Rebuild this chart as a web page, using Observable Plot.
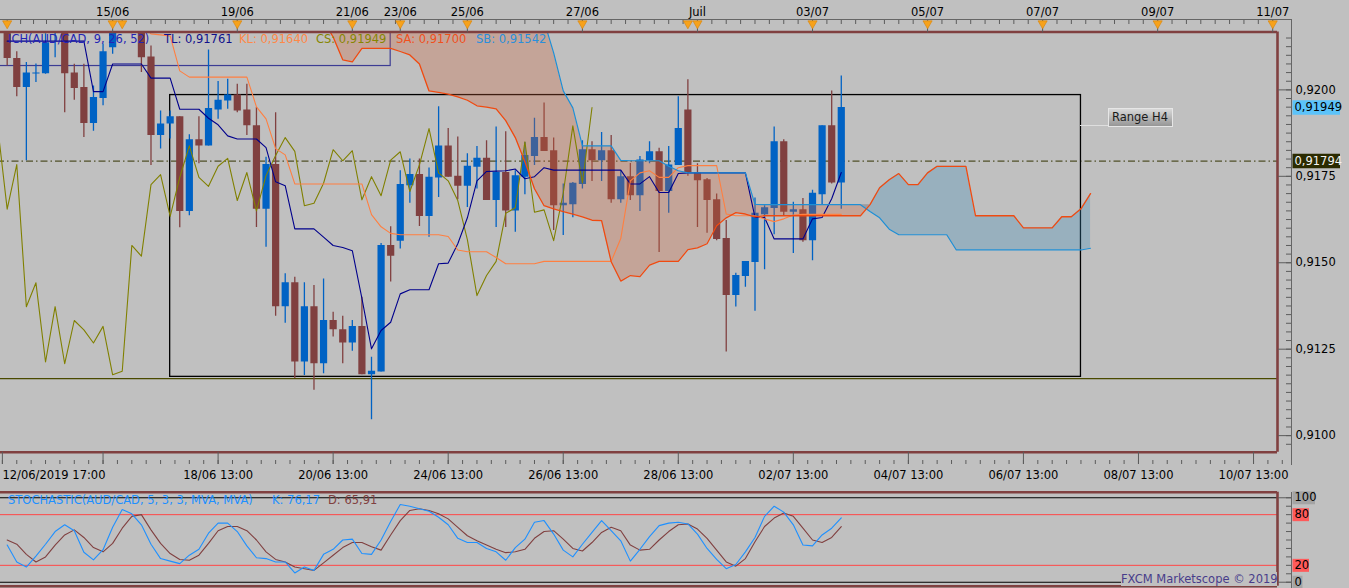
<!DOCTYPE html>
<html>
<head>
<meta charset="utf-8">
<script src="https://cdn.jsdelivr.net/npm/d3@7"></script>
<script src="https://cdn.jsdelivr.net/npm/@observablehq/plot@0.6"></script>
<style>
html,body{margin:0;padding:0;background:#c0c0c0;}
#wrap{position:relative;width:1349px;height:588px;background:#c0c0c0;overflow:hidden;font-family:'DejaVu Sans',sans-serif;font-size:11.5px;}
#wrap svg{position:absolute;left:0;overflow:visible;}
.t{position:absolute;white-space:pre;line-height:14px;}
.ln{position:absolute;background:#666;}
</style>
</head>
<body>
<div id="wrap"></div>
<script>
// ---------------- DATA (AUD/CAD, H4 bars, index 0..87) ----------------
const opens = [0.92176,0.92091,0.92007,0.92046,0.92047,0.92173,0.92173,0.92049,0.92007,0.91903,
0.91975,0.92122,0.92228,0.92199,0.92176,0.92095,0.91868,0.91901,0.91922,0.91648,
0.91856,0.91838,0.91942,0.91968,0.91985,0.91942,0.91896,0.91655,0.91784,0.91373,
0.91442,0.91213,0.91373,0.91208,0.91333,0.91306,0.91268,0.91316,0.91176,0.91184,
0.91550,0.91562,0.91723,0.91755,0.91634,0.91745,0.91838,0.91750,0.91721,0.91776,
0.91802,0.91680,0.91761,0.91650,0.91747,0.91807,0.91862,0.91824,0.91665,0.91668,
0.91726,0.91827,0.91795,0.91824,0.91682,0.91749,0.91694,0.91795,0.91821,0.91706,
0.91781,0.91942,0.91760,0.91740,0.91682,0.91570,0.91405,0.91460,0.91501,0.91639,
0.91657,0.91850,0.91646,0.91653,0.91564,0.91697,0.91896,0.91731];
const highs = [0.92185,0.92110,0.92079,0.92075,0.92162,0.92214,0.92185,0.92074,0.92074,0.92011,
0.92133,0.92205,0.92242,0.92222,0.92193,0.92127,0.91939,0.91939,0.91922,0.91870,
0.91922,0.92115,0.92024,0.92031,0.92016,0.92016,0.91949,0.91805,0.91934,0.91468,
0.91458,0.91442,0.91434,0.91453,0.91357,0.91345,0.91333,0.91400,0.91227,0.91556,
0.91604,0.91766,0.91800,0.91800,0.91774,0.91951,0.91888,0.91864,0.91815,0.91836,
0.91853,0.91893,0.91879,0.91766,0.91848,0.91918,0.91962,0.91861,0.91728,0.91732,
0.91853,0.91850,0.91877,0.91868,0.91766,0.91787,0.91807,0.91850,0.91831,0.91836,
0.91980,0.92029,0.91786,0.91744,0.91699,0.91622,0.91470,0.91504,0.91687,0.91665,
0.91893,0.91856,0.91675,0.91686,0.91710,0.91896,0.91997,0.92040];
const lows = [0.92069,0.91980,0.91795,0.92021,0.92045,0.92093,0.91934,0.91970,0.91862,0.91880,
0.91954,0.92103,0.92185,0.92162,0.92050,0.91781,0.91829,0.91858,0.91601,0.91636,
0.91786,0.91838,0.91915,0.91944,0.91934,0.91868,0.91602,0.91545,0.91345,0.91325,
0.91165,0.91174,0.91131,0.91179,0.91285,0.91208,0.91244,0.91176,0.91046,0.91184,
0.91444,0.91540,0.91672,0.91605,0.91574,0.91689,0.91747,0.91682,0.91660,0.91713,
0.91680,0.91602,0.91602,0.91588,0.91697,0.91781,0.91822,0.91593,0.91579,0.91630,
0.91713,0.91735,0.91735,0.91672,0.91672,0.91680,0.91648,0.91786,0.91530,0.91643,
0.91781,0.91750,0.91602,0.91585,0.91564,0.91242,0.91372,0.91429,0.91360,0.91480,
0.91581,0.91636,0.91527,0.91559,0.91506,0.91668,0.91728,0.91655];
const closes = [0.92091,0.92007,0.92049,0.92049,0.92136,0.92199,0.92047,0.92004,0.91903,0.91978,
0.92110,0.92193,0.92199,0.92176,0.92093,0.91868,0.91901,0.91922,0.91648,0.91856,
0.91838,0.91946,0.91970,0.91985,0.91939,0.91896,0.91655,0.91784,0.91373,0.91442,
0.91213,0.91373,0.91208,0.91333,0.91306,0.91268,0.91316,0.91176,0.91186,0.91550,
0.91519,0.91726,0.91755,0.91634,0.91747,0.91838,0.91747,0.91721,0.91779,0.91802,
0.91680,0.91761,0.91650,0.91752,0.91810,0.91862,0.91822,0.91665,0.91672,0.91730,
0.91827,0.91795,0.91824,0.91682,0.91749,0.91694,0.91797,0.91821,0.91706,0.91783,
0.91888,0.91760,0.91737,0.91680,0.91567,0.91405,0.91463,0.91504,0.91643,0.91659,
0.91850,0.91646,0.91653,0.91564,0.91701,0.91896,0.91731,0.91949];

// Ichimoku (9, 26, 52)
const tenkan = [0.92141,0.92141,0.92141,0.92141,0.92141,0.92141,0.92141,0.92141,0.92141,0.91995,
0.91995,0.92075,0.92075,0.92075,0.92075,0.92034,0.92034,0.92034,0.91944,0.91944,
0.91944,0.91918,0.91899,0.91867,0.91858,0.91858,0.91858,0.91833,0.91734,0.91723,
0.91598,0.91598,0.91598,0.91574,0.91550,0.91544,0.91535,0.91397,0.91251,0.91304,
0.91328,0.91410,0.91422,0.91422,0.91422,0.91497,0.91499,0.91555,0.91630,0.91737,
0.91764,0.91765,0.91766,0.91771,0.91743,0.91749,0.91775,0.91768,0.91768,0.91768,
0.91768,0.91768,0.91768,0.91768,0.91768,0.91728,0.91728,0.91749,0.91703,0.91703,
0.91758,0.91760,0.91760,0.91760,0.91760,0.91760,0.91760,0.91760,0.91631,0.91631,
0.91569,0.91569,0.91569,0.91569,0.91627,0.91631,0.91685,0.91761];
const kijun = [0.92199,0.92199,0.92199,0.92199,0.92199,0.92199,0.92199,0.92199,0.92199,0.92199,
0.92199,0.92199,0.92199,0.92199,0.92199,0.92162,0.92159,0.92156,0.92055,0.92037,
0.92037,0.92037,0.92037,0.92037,0.92037,0.92037,0.91951,0.91916,0.91830,0.91812,
0.91728,0.91728,0.91728,0.91728,0.91728,0.91728,0.91728,0.91728,0.91639,0.91604,
0.91585,0.91581,0.91581,0.91581,0.91581,0.91581,0.91576,0.91537,0.91532,0.91532,
0.91532,0.91515,0.91497,0.91497,0.91497,0.91497,0.91504,0.91504,0.91504,0.91504,
0.91504,0.91504,0.91504,0.91504,0.91570,0.91737,0.91760,0.91766,0.91747,0.91747,
0.91775,0.91781,0.91781,0.91781,0.91781,0.91641,0.91636,0.91636,0.91636,0.91627,
0.91619,0.91627,0.91638,0.91640,0.91640,0.91640,0.91640,0.91640];
// Senkou spans, bars 33..113 (projected 26 bars ahead)
const CLOUD_START = 33;
const senkouA = [0.92199,0.92153,0.92087,0.92081,0.92120,0.92120,0.92120,0.92120,0.92111,0.92101,
0.92075,0.91997,0.91993,0.91988,0.91980,0.91970,0.91954,0.91950,0.91945,0.91911,
0.91862,0.91792,0.91714,0.91665,0.91656,0.91648,0.91641,0.91633,0.91623,0.91622,
0.91503,0.91447,0.91463,0.91460,0.91493,0.91504,0.91504,0.91504,0.91538,0.91543,
0.91555,0.91607,0.91630,0.91645,0.91641,0.91633,0.91636,0.91636,0.91636,0.91636,
0.91636,0.91636,0.91636,0.91636,0.91636,0.91636,0.91636,0.91668,0.91717,0.91740,
0.91758,0.91726,0.91726,0.91760,0.91779,0.91779,0.91779,0.91779,0.91636,0.91636,
0.91636,0.91636,0.91636,0.91601,0.91601,0.91601,0.91601,0.91633,0.91633,0.91656,
0.91700];
const senkouB = [0.92300,0.92300,0.92300,0.92300,0.92300,0.92300,0.92300,0.92300,0.92300,0.92300,
0.92300,0.92300,0.92300,0.92300,0.92300,0.92300,0.92300,0.92300,0.92300,0.92300,
0.92300,0.92300,0.92300,0.92199,0.92107,0.91997,0.91948,0.91838,0.91838,0.91838,
0.91838,0.91796,0.91795,0.91795,0.91795,0.91795,0.91779,0.91766,0.91760,0.91760,
0.91760,0.91760,0.91760,0.91760,0.91760,0.91669,0.91668,0.91668,0.91668,0.91668,
0.91668,0.91668,0.91668,0.91668,0.91668,0.91668,0.91668,0.91648,0.91630,0.91597,
0.91581,0.91581,0.91581,0.91581,0.91581,0.91581,0.91537,0.91537,0.91537,0.91537,
0.91537,0.91537,0.91537,0.91537,0.91537,0.91537,0.91537,0.91537,0.91537,0.91537,
0.91542];
const CHIKOU_SHIFT = 26;

// Stochastic (5,3,3)
const stochK = [44,24,18,31,45,60,68,61,35.5,26.5,38.5,65,86,81,68,45,28,25,22,32,
39,58,70,70,60,43,29,28,24,24,11,18,14,33,39,50,51,34,33,50,
72,92,90,87,84,77,68,52,47,47,40,36,26,41,51,71,73,57,38,30,
45,59,73,61,49,25,39,54,67,70,71,69,57,40,27,16,21,36,53,78,
90,83,68,44,43,56,64,76.17];
const stochD = [50,45,33,24,30,44,56,62,53,41,36,46,64,78,80,62,46,34,27,26,
32,46,61,66,66,61,50,36,27,24,18,16,14,23,32,41,47,47,42,38,
56,73,85,87,85,81,75,65,55,49,44,39,35,36,39,52,60,61,51,40,
37,47,59,65,61,44,38,39,50,60,68,69,63,52,38,24,19,28,48,66,
76,82,78,64,50,47,53,65.91];
const stochLevels = [80, 20];
const stochBounds = [100, 0];

// drawings
const pivotLine = 0.91794;
const supportLine = 0.91165;
const rangeH4 = {fromBar: 17, toBar: 112, low: 0.91170, high: 0.91985};
const navyBox = {fromBar: -5, toBar: 40, low: 0.92069, high: 0.92300};

// axis labels
const topLabels = ["15/06","19/06","21/06","23/06","25/06","27/06","Juil","03/07","05/07","07/07","09/07","11/07"];
const topLabelBars = [11,24,36,41,48,60,72,84,96,108,120,132];
const markerBars = [0,11,12,24,36,41,48,60,71,72,84,96,108,120,132];
const bottomLabels = ["18/06 13:00","20/06 13:00","24/06 13:00","26/06 13:00","28/06 13:00","02/07 13:00","04/07 13:00","06/07 13:00","08/07 13:00","10/07 13:00"];
const bottomLabelBars = [22,34,46,58,70,82,94,106,118,130];
const firstLabel = "12/06/2019 17:00";
const firstLabelBar = -0.5;
const priceTicks = [0.9100,0.9125,0.9150,0.9175,0.9200];

// ---------------- RENDER ----------------
const wrap = document.getElementById("wrap");
const FONT = "'DejaVu Sans', sans-serif";
const W = 1349, ML = -3, MR = 72, FR = W - MR;
const MAROON = "#804040", TICK = "#5c5c5c";
const xDomain = [-1.01, 132.5];
const priceDomain = [0.909521, 0.921674];
const stochDomain = [-4.7, 106.6];
const fmt4 = d => d.toFixed(4).replace(".", ",");
const fmt5 = d => d.toFixed(5).replace(".", ",");
const fmt2 = d => d.toFixed(2).replace(".", ",");

const topTicks = [0,1.4,2.75,4.1,5.5,6.9,8.25,9.6,11].concat(d3.range(12, 132.6, 1.5));
const bottomTicks = d3.range(-0.5, 133.6, 1.5);
const priceMinor = d3.range(0.90975, 0.92160, 0.00025);
const stochMinor = d3.range(0, 101, 10);

const candles = opens.map((o, i) => ({i, o, h: highs[i], l: lows[i], c: closes[i]}));
const candleColor = d => d.c >= d.o ? "#0062c4" : MAROON;
const tk = tenkan.map((v, i) => ({i, v}));
const kj = kijun.map((v, i) => ({i, v}));
const cs = closes.slice(CHIKOU_SHIFT - 1).map((v, k) => ({i: k + CHIKOU_SHIFT - 1 - CHIKOU_SHIFT, v}));
const cloud = senkouA.map((a, k) => ({i: CLOUD_START + k, a, b: senkouB[k]}));
const lastClose = closes[closes.length - 1];

const style = {background: "transparent", fontFamily: FONT, fontSize: "11.5px", color: "#000", overflow: "visible"};

const main = Plot.plot({
  width: W, height: 490,
  marginTop: 31.5, marginBottom: 38.3, marginLeft: ML, marginRight: MR,
  x: {type: "linear", domain: xDomain, axis: null, label: null},
  y: {type: "linear", domain: priceDomain, axis: null, label: null},
  color: {type: "identity"},
  style,
  marks: [
    Plot.ruleY([pivotLine], {stroke: "#333300", strokeWidth: 1, strokeDasharray: "7,3,1.5,3"}),
    Plot.ruleY([supportLine], {stroke: "#4a4a00", strokeWidth: 1.3}),
    Plot.rect([navyBox], {x1: "fromBar", x2: "toBar", y1: "low", y2: "high", fill: "none", stroke: "#3c3c94", strokeWidth: 1.2, clip: true}),
    Plot.rect([rangeH4], {x1: "fromBar", x2: "toBar", y1: "low", y2: "high", fill: "none", stroke: "#000", strokeWidth: 1.3, clip: true}),
    Plot.ruleX(candles, {x: "i", y1: "l", y2: "h", stroke: candleColor, strokeWidth: 1.3, clip: true}),
    Plot.ruleX(candles, {x: "i", y1: "o", y2: "c", stroke: candleColor, strokeWidth: 7.2, clip: true}),
    Plot.areaY(cloud, {x: "i", y1: "a", y2: d => Math.max(d.a, d.b), fill: "rgb(205,99,59)", fillOpacity: 0.3, clip: true}),
    Plot.areaY(cloud, {x: "i", y1: "b", y2: d => Math.max(d.a, d.b), fill: "rgb(60,140,185)", fillOpacity: 0.3, clip: true}),
    Plot.line(cs, {x: "i", y: "v", stroke: "#808000", strokeWidth: 1.1, clip: true}),
    Plot.line(tk, {x: "i", y: "v", stroke: "#00008c", strokeWidth: 1.1, clip: true}),
    Plot.line(kj, {x: "i", y: "v", stroke: "#ff7f40", strokeWidth: 1.1, clip: true}),
    Plot.line(cloud, {x: "i", y: "b", stroke: "#1e8fd6", strokeWidth: 1.2, clip: true}),
    Plot.line(cloud, {x: "i", y: "a", stroke: "#f04a10", strokeWidth: 1.3, clip: true}),
    // frame
    Plot.ruleY([priceDomain[1]], {stroke: MAROON, strokeWidth: 2.6}),
    Plot.ruleY([priceDomain[0]], {stroke: MAROON, strokeWidth: 2.6}),
    Plot.ruleX([xDomain[1]], {stroke: MAROON, strokeWidth: 2.6}),
    // top axis
    Plot.axisX({anchor: "top", ticks: topTicks, tickSize: 4.3, dy: -8.5, tickFormat: () => "", stroke: TICK, label: null}),
    Plot.axisX({anchor: "top", ticks: topLabelBars, tickSize: 13, tickPadding: 3, tickFormat: d => topLabels[topLabelBars.indexOf(d)], stroke: TICK, fill: "#000", label: null}),
    Plot.dot(markerBars, {x: d => d, frameAnchor: "top", dy: -8.5, symbol: "triangle", rotate: 180, r: 3.4, fill: "#f7a21b", stroke: "#d98000", strokeWidth: 0.6}),
    // bottom axis
    Plot.axisX({anchor: "bottom", ticks: bottomTicks, tickSize: 4, dy: 8.3, tickFormat: () => "", stroke: TICK, label: null}),
    Plot.axisX({anchor: "bottom", ticks: [10], tickSize: 12.3, tickFormat: () => "", stroke: TICK, label: null}),
    Plot.axisX({anchor: "bottom", ticks: bottomLabelBars, tickSize: 12.3, tickPadding: 6, tickFormat: d => bottomLabels[bottomLabelBars.indexOf(d)], stroke: TICK, fill: "#000", label: null}),
    Plot.axisX({anchor: "bottom", ticks: [firstLabelBar], tickSize: 12.3, tickPadding: 6, textAnchor: "start", tickFormat: () => firstLabel, stroke: TICK, fill: "#000", label: null}),
    // right axis
    Plot.axisY({anchor: "right", ticks: priceMinor, tickSize: 6, dx: 8, tickFormat: () => "", stroke: TICK, label: null}),
    Plot.axisY({anchor: "right", ticks: priceTicks, tickSize: 14, tickPadding: 4, tickFormat: fmt4, stroke: TICK, fill: "#000", label: null}),
    // price tags
    Plot.ruleY([lastClose], {stroke: "#5cc3fa", strokeWidth: 14.5, insetLeft: 1292.5 - ML, insetRight: FR - 1340}),
    Plot.ruleY([pivotLine], {stroke: "#2b2b00", strokeWidth: 14.5, insetLeft: 1292.5 - ML, insetRight: FR - 1340}),
    Plot.text([lastClose], {y: d => d, text: fmt5, frameAnchor: "right", dx: 17, textAnchor: "start", fill: "#000"}),
    Plot.text([pivotLine], {y: d => d, text: fmt5, frameAnchor: "right", dx: 17, textAnchor: "start", fill: "#f4f4f4"})
  ]
});
main.style.top = "0px";
wrap.appendChild(main);

const kData = stochK.map((v, i) => ({i, v}));
const dData = stochD.map((v, i) => ({i, v}));
const stoch = Plot.plot({
  width: W, height: 100,
  marginTop: 3.7, marginBottom: 2.3, marginLeft: ML, marginRight: MR,
  x: {type: "linear", domain: xDomain, axis: null, label: null},
  y: {type: "linear", domain: stochDomain, axis: null, label: null},
  style,
  marks: [
    Plot.ruleY(stochBounds, {stroke: "#000", strokeWidth: 1.2}),
    Plot.ruleY(stochLevels, {stroke: "#ff4646", strokeWidth: 1}),
    Plot.line(dData, {x: "i", y: "v", stroke: "#804040", strokeWidth: 1.1}),
    Plot.line(kData, {x: "i", y: "v", stroke: "#1e90ff", strokeWidth: 1.1}),
    Plot.ruleY([stochDomain[1]], {stroke: MAROON, strokeWidth: 2.6}),
    Plot.ruleY([stochDomain[0]], {stroke: MAROON, strokeWidth: 2.6}),
    Plot.ruleX([xDomain[1]], {stroke: MAROON, strokeWidth: 2.6}),
    Plot.axisY({anchor: "right", ticks: stochMinor, tickSize: 6, dx: 8, tickFormat: () => "", stroke: TICK, label: null}),
    Plot.axisY({anchor: "right", ticks: stochBounds, tickSize: 14, tickFormat: () => "", stroke: TICK, label: null}),
    Plot.ruleY([100], {stroke: "#a4a4a4", strokeWidth: 13, insetLeft: 1292.5 - ML, insetRight: FR - 1315}),
    Plot.ruleY([0], {stroke: "#a4a4a4", strokeWidth: 13, insetLeft: 1292.5 - ML, insetRight: FR - 1302.5}),
    Plot.ruleY(stochLevels, {stroke: "#ff5a5a", strokeWidth: 13, insetLeft: 1292.5 - ML, insetRight: FR - 1309}),
    Plot.text(stochBounds.concat(stochLevels), {y: d => d, text: d => String(d), frameAnchor: "right", dx: 17, textAnchor: "start", fill: "#000"})
  ]
});
stoch.style.top = "488px";
wrap.appendChild(stoch);

// ---------------- overlays: axis lines, legends, annotations ----------------
function add(cls, css, text) {
  const el = document.createElement("div");
  el.className = cls;
  el.style.cssText = css;
  if (text != null) el.textContent = text;
  wrap.appendChild(el);
  return el;
}
add("ln", "left:0;top:18.5px;width:1291px;height:1px;");
add("ln", "left:1290.5px;top:18.5px;width:1px;height:446px;");
add("ln", "left:1290.5px;top:492px;width:1px;height:96px;");

const legend = [
  {t: "ICH(AUD/CAD, 9, 26, 52)", x: 8, c: "#2424b4"},
  {t: "TL: " + fmt5(tenkan[tenkan.length - 1]), x: 164, c: "#10108c"},
  {t: "KL: " + fmt5(kijun[kijun.length - 1]), x: 239, c: "#ff8848"},
  {t: "CS: " + fmt5(lastClose), x: 316, c: "#868600"},
  {t: "SA: " + fmt5(senkouA[senkouA.length - 1]), x: 396, c: "#f0501c"},
  {t: "SB: " + fmt5(senkouB[senkouB.length - 1]), x: 476, c: "#2a8fdc"}
];
legend.forEach(l => add("t", `left:${l.x}px;top:32px;color:${l.c};`, l.t));

add("t", "left:8px;top:493px;color:#1e90ff;", "STOCHASTIC(AUD/CAD, 5, 3, 3, MVA, MVA)");
add("t", "left:272px;top:493px;color:#1e90ff;", "K: " + fmt2(stochK[stochK.length - 1]));
add("t", "left:328px;top:493px;color:#804040;", "D: " + fmt2(stochD[stochD.length - 1]));

add("ln", "left:1080px;top:124.5px;width:28px;height:1px;background:#dedede;");
add("t", "left:1107.5px;top:107.5px;width:63px;height:17px;line-height:17px;text-align:center;color:#1a1a1a;background:linear-gradient(#d8d8d8,#969696);border:1px solid #e6e6e6;", "Range H4");

add("t", "left:1121px;top:572px;width:156px;color:#483d8b;background:#c0c0c0;", "FXCM Marketscope © 2019");
</script>
</body>
</html>
